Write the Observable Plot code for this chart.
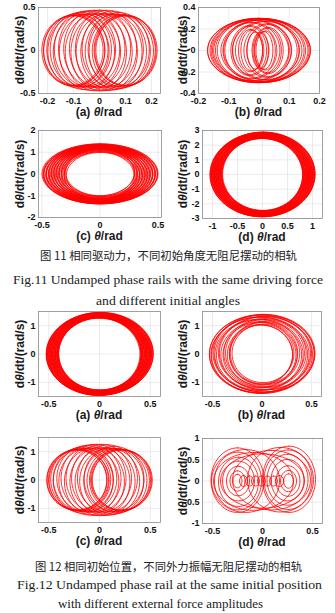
<!DOCTYPE html>
<html><head><meta charset="utf-8">
<script src="https://cdn.jsdelivr.net/npm/d3@7"></script>
<script src="https://cdn.jsdelivr.net/npm/@observablehq/plot@0.6"></script>
<style>
body{margin:0;background:#fff;}
#fig{position:relative;width:335px;height:613px;overflow:hidden;background:#fff;}
.panel{position:absolute;}
.lab{position:absolute;font-family:"Liberation Sans",Arial,sans-serif;font-weight:bold;font-size:12px;white-space:nowrap;color:#1a1a1a;line-height:1;}
.yl{transform:translate(-50%,-50%) rotate(-90deg);}
.xl{transform:translate(-50%,-50%);}
#cap{position:absolute;left:0;top:0;}
</style></head><body><div id="fig"></div>
<script>
// ---- data: each loop of a phase trajectory = [centre θ, centre dθ/dt, half-width, half-height]
const loops11a = [
 [-0.104,0.000,0.118,0.405],[-0.097,0.004,0.118,0.412],[-0.085,0.008,0.118,0.422],[-0.072,0.012,0.118,0.432],
 [-0.056,0.016,0.118,0.440],[-0.040,0.018,0.118,0.445],[-0.020,0.020,0.118,0.448],[0.002,0.020,0.118,0.450],
 [0.025,0.020,0.118,0.448],[0.051,0.017,0.118,0.442],[0.074,0.012,0.118,0.430],[0.097,0.004,0.118,0.412],
 [0.104,0.000,0.118,0.405],
 [0.100,-0.003,0.118,0.408],[0.090,-0.007,0.118,0.418],[0.078,-0.011,0.118,0.428],[0.063,-0.014,0.118,0.436],
 [0.046,-0.017,0.118,0.443],[0.028,-0.019,0.118,0.447],[0.008,-0.020,0.118,0.450],[-0.014,-0.020,0.118,0.449],
 [-0.037,-0.018,0.118,0.445],[-0.060,-0.015,0.118,0.438],[-0.081,-0.010,0.118,0.425],[-0.098,-0.004,0.118,0.410]
];
const loops11b = [
 [0.000,0,0.170,0.300],[0.008,0,0.162,0.298],[-0.010,0,0.152,0.295],[0.014,0,0.140,0.290],
 [-0.018,0,0.126,0.284],[0.022,0,0.110,0.275],[-0.025,0,0.094,0.264],[0.028,0,0.078,0.250],
 [-0.030,0,0.063,0.234],[0.030,0,0.050,0.216],[-0.028,0,0.040,0.198],[0.022,0,0.032,0.182],
 [-0.012,0,0.028,0.172],[0.004,0,0.027,0.168],[0.016,0,0.030,0.176],[-0.024,0,0.036,0.190],
 [0.029,0,0.045,0.207],[-0.031,0,0.056,0.225],[0.030,0,0.070,0.242],[-0.027,0,0.086,0.258],
 [0.024,0,0.102,0.270],[-0.020,0,0.118,0.280],[0.016,0,0.133,0.287],[-0.012,0,0.146,0.293],
 [0.008,0,0.158,0.297],[-0.004,0,0.166,0.299]
];
const loops11c = [
 [0.000,0.010,0.500,1.380],[0.004,-0.013,0.489,1.363],[-0.004,0.016,0.478,1.346],[0.006,-0.019,0.467,1.330],
 [-0.006,0.022,0.456,1.313],[0.008,-0.025,0.445,1.296],[-0.008,0.028,0.434,1.279],[0.009,-0.031,0.423,1.263],
 [-0.009,0.034,0.412,1.246],[0.010,-0.037,0.401,1.229],[-0.010,0.040,0.390,1.212],[0.010,-0.044,0.379,1.196],
 [-0.010,0.048,0.368,1.179],[0.009,-0.052,0.357,1.162],[-0.008,0.056,0.346,1.145],[0.007,-0.060,0.335,1.129],
 [-0.006,0.064,0.324,1.112],[0.005,-0.067,0.313,1.095],[-0.003,0.070,0.302,1.078],[0.002,-0.070,0.292,1.063],
 [0.000,0.070,0.296,1.069],[-0.003,-0.068,0.307,1.086],[0.005,0.065,0.318,1.103],[-0.006,-0.062,0.329,1.120],
 [0.007,0.058,0.340,1.136],[-0.008,-0.054,0.351,1.153],[0.009,0.050,0.362,1.170],[-0.010,-0.046,0.373,1.187],
 [0.010,0.042,0.384,1.203],[-0.010,-0.038,0.395,1.220],[0.010,0.035,0.406,1.237],[-0.009,-0.032,0.417,1.254],
 [0.009,0.029,0.428,1.270],[-0.008,-0.026,0.439,1.287],[0.007,0.023,0.450,1.304],[-0.006,-0.020,0.461,1.321],
 [0.005,0.017,0.472,1.337],[-0.004,-0.014,0.483,1.354],[0.002,0.011,0.494,1.371]
];
const loops11d = [
 [0.000,0.00,1.050,2.880],[0.015,0.04,1.037,2.858],[-0.015,-0.04,1.024,2.836],[0.015,0.04,1.011,2.814],
 [-0.015,-0.04,0.998,2.793],[0.015,0.04,0.985,2.771],[-0.015,-0.04,0.972,2.749],[0.015,0.04,0.959,2.727],
 [-0.015,-0.04,0.946,2.705],[0.015,0.04,0.933,2.683],[-0.015,-0.04,0.920,2.662],[0.015,0.04,0.907,2.640],
 [-0.015,-0.04,0.894,2.618],[0.015,0.04,0.881,2.596],[-0.015,-0.04,0.868,2.574],[0.015,0.04,0.855,2.552],
 [-0.015,-0.04,0.842,2.531],[0.012,0.03,0.829,2.509],[-0.010,-0.03,0.816,2.487],[0.006,0.02,0.803,2.465],
 [-0.006,-0.02,0.809,2.475],[0.010,0.03,0.822,2.497],[-0.012,-0.03,0.835,2.519],[0.015,0.04,0.848,2.541],
 [-0.015,-0.04,0.861,2.562],[0.015,0.04,0.874,2.584],[-0.015,-0.04,0.887,2.606],[0.015,0.04,0.900,2.628],
 [-0.015,-0.04,0.913,2.650],[0.015,0.04,0.926,2.672],[-0.015,-0.04,0.939,2.694],[0.015,0.04,0.952,2.715],
 [-0.015,-0.04,0.965,2.737],[0.015,0.04,0.978,2.759],[-0.015,-0.04,0.991,2.781],[0.015,0.04,1.004,2.803],
 [-0.012,-0.03,1.017,2.825],[0.010,0.03,1.030,2.846],[-0.006,-0.02,1.043,2.868]
];
const loops12a = [
 [0.000,0.00,0.525,1.460],[0.010,0.02,0.519,1.451],[-0.010,-0.02,0.512,1.440],[0.010,0.02,0.506,1.431],
 [-0.010,-0.02,0.500,1.422],[0.010,0.02,0.493,1.411],[-0.010,-0.02,0.487,1.402],[0.010,0.02,0.481,1.393],
 [-0.010,-0.02,0.474,1.382],[0.010,0.02,0.468,1.373],[-0.010,-0.02,0.462,1.364],[0.010,0.02,0.455,1.354],
 [-0.010,-0.02,0.449,1.344],[0.010,0.02,0.443,1.335],[-0.010,-0.02,0.436,1.325],[0.010,0.02,0.430,1.316],
 [-0.008,-0.02,0.424,1.306],[0.006,0.01,0.417,1.296],[-0.005,-0.01,0.411,1.287],[0.004,0.01,0.405,1.278],
 [-0.004,-0.01,0.402,1.273],[0.005,0.01,0.408,1.282],[-0.006,-0.01,0.414,1.291],[0.008,0.02,0.421,1.302],
 [-0.010,-0.02,0.427,1.311],[0.010,0.02,0.433,1.320],[-0.010,-0.02,0.440,1.331],[0.010,0.02,0.446,1.340],
 [-0.010,-0.02,0.452,1.349],[0.010,0.02,0.459,1.360],[-0.010,-0.02,0.465,1.369],[0.010,0.02,0.471,1.378],
 [-0.010,-0.02,0.478,1.389],[0.010,0.02,0.484,1.398],[-0.010,-0.02,0.490,1.407],[0.010,0.02,0.497,1.418],
 [-0.008,-0.02,0.503,1.427],[0.006,0.01,0.509,1.436],[-0.005,-0.01,0.516,1.446],[0.004,0.01,0.522,1.455]
];
const loops12b = [
 [0.000,0.00,0.530,1.39],[0.020,0.03,0.515,1.37],[-0.020,-0.03,0.495,1.34],[0.030,0.03,0.470,1.30],
 [-0.030,-0.03,0.445,1.26],[0.030,0.03,0.415,1.22],[-0.030,-0.03,0.385,1.17],[0.025,0.03,0.355,1.12],
 [-0.020,-0.03,0.330,1.07],[0.010,0.02,0.312,1.03],[-0.010,-0.02,0.318,1.04],[0.020,0.03,0.340,1.09],
 [-0.025,-0.03,0.368,1.14],[0.030,0.03,0.398,1.19],[-0.030,-0.03,0.430,1.24],[0.030,0.03,0.460,1.29],
 [-0.025,-0.03,0.485,1.33],[0.020,0.02,0.505,1.36],[-0.010,-0.01,0.520,1.38]
];
const loops12c = [
 [-0.224,0.000,0.295,1.060],[-0.207,0.010,0.295,1.080],[-0.185,0.020,0.295,1.110],[-0.159,0.030,0.295,1.140],
 [-0.125,0.045,0.295,1.170],[-0.083,0.055,0.295,1.190],[-0.034,0.060,0.295,1.200],[0.020,0.060,0.295,1.200],
 [0.078,0.055,0.295,1.190],[0.143,0.040,0.295,1.150],[0.207,0.010,0.295,1.080],[0.224,0.000,0.295,1.060],
 [0.216,-0.005,0.295,1.070],[0.196,-0.015,0.295,1.100],[0.172,-0.025,0.295,1.130],[0.140,-0.040,0.295,1.160],
 [0.100,-0.050,0.295,1.180],[0.055,-0.058,0.295,1.195],[0.004,-0.060,0.295,1.200],[-0.050,-0.058,0.295,1.195],
 [-0.105,-0.050,0.295,1.180],[-0.160,-0.030,0.295,1.140],[-0.200,-0.012,0.295,1.090],[-0.220,-0.003,0.295,1.065]
];
const loops12d = [
 [-0.250,0.02,0.265,0.76],[-0.245,0.00,0.235,0.68],[-0.240,-0.02,0.200,0.58],[-0.240,0.00,0.160,0.47],
 [-0.245,0.00,0.115,0.35],[-0.250,0.00,0.075,0.24],[-0.250,0.00,0.045,0.16],
 [-0.190,0.00,0.040,0.13],[-0.130,0.00,0.040,0.12],[-0.070,0.00,0.040,0.12],[-0.010,0.00,0.040,0.12],
 [0.050,0.00,0.040,0.12],[0.110,0.00,0.040,0.12],[0.170,0.00,0.042,0.13],
 [0.260,0.00,0.048,0.17],[0.260,0.00,0.080,0.25],[0.255,0.00,0.120,0.36],[0.250,0.02,0.165,0.49],
 [0.250,0.03,0.205,0.60],[0.255,0.03,0.240,0.70],[0.265,0.04,0.265,0.78],
 [0.180,0.03,0.330,0.76],[0.090,0.02,0.390,0.70],[0.000,0.00,0.420,0.64],[-0.090,-0.01,0.400,0.68],
 [-0.170,0.00,0.340,0.74]
];
// tick labels
const xTicks11a = [-0.2,-0.1,0,0.1,0.2], yTicks11a = [-0.5,0,0.5];
const xTicks11b = [-0.2,-0.1,0,0.1,0.2], yTicks11b = [-0.4,-0.2,0,0.2,0.4];
const xTicks11c = [-0.5,0,0.5], yTicks11c = [-2,-1,0,1,2];
const xTicks11d = [-1,-0.5,0,0.5,1], yTicks11d = [-3,-2,-1,0,1,2,3];
const xTicks12a = [-0.5,0,0.5], yTicks12a = [-1,0,1];
const xTicks12b = [-0.5,0,0.5], yTicks12b = [-1,0,1];
const xTicks12c = [-0.5,0,0.5], yTicks12c = [-1,0,1];
const xTicks12d = [-0.5,0,0.5], yTicks12d = [-1,-0.5,0,0.5,1];
const panelTags = ["(a)","(b)","(c)","(d)","(a)","(b)","(c)","(d)"];
const captions = [
 "图 11 相同驱动力，不同初始角度无阻尼摆动的相轨",
 "Fig.11 Undamped phase rails with the same driving force",
 "and different initial angles",
 "图 12 相同初始位置，不同外力振幅无阻尼摆动的相轨",
 "Fig.12 Undamped phase rail at the same initial position",
 "with different external force amplitudes"
];

// ---- layout (page pixels)
const panels = [
 {loops:loops11a, xd:[-0.235,0.235], yd:[-0.5,0.5], xt:xTicks11a, yt:yTicks11a, fx:[38,160], fy:[7,93], col:[0,167], ylx:20},
 {loops:loops11b, xd:[-0.2,0.2], yd:[-0.4,0.4], xt:xTicks11b, yt:yTicks11b, fx:[198,319], fy:[7,93], col:[167,335], ylx:183},
 {loops:loops11c, xd:[-0.53,0.53], yd:[-2,2], xt:xTicks11c, yt:yTicks11c, fx:[38,161], fy:[130,217], col:[0,167], ylx:20},
 {loops:loops11d, xd:[-1.2,1.2], yd:[-3,3], xt:xTicks11d, yt:yTicks11d, fx:[202,322], fy:[130,218], col:[167,335], ylx:183},
 {loops:loops12a, xd:[-0.6,0.6], yd:[-1.5,1.5], xt:xTicks12a, yt:yTicks12a, fx:[38,160], fy:[311,396], col:[0,167], ylx:20},
 {loops:loops12b, xd:[-0.6,0.6], yd:[-1.5,1.5], xt:xTicks12b, yt:yTicks12b, fx:[202,321], fy:[311,396], col:[167,335], ylx:183},
 {loops:loops12c, xd:[-0.6,0.6], yd:[-1.5,1.5], xt:xTicks12c, yt:yTicks12c, fx:[38,160], fy:[437,522], col:[0,167], ylx:20},
 {loops:loops12d, xd:[-0.6,0.6], yd:[-1,1], xt:xTicks12d, yt:yTicks12d, fx:[202,322], fy:[438,523], col:[167,335], ylx:183}
];
const capLayout = [
 {x0:40,x1:297,y:255,zh:true},{x0:13,x1:323,y:279},{x0:96,x1:240,y:300},
 {x0:35,x1:302,y:566,zh:true},{x0:17,x1:322,y:584},{x0:58,x1:263,y:603}
];

const fig = document.getElementById("fig");
const fmt = d => String(d);
function loopPoints(loops) {
  const pts = [];
  loops.forEach(([cx, cy, rx, ry], i) => {
    pts.push({id:i, x:cx-rx, y:cy}, {id:i, x:cx, y:cy+ry}, {id:i, x:cx+rx, y:cy}, {id:i, x:cx, y:cy-ry});
  });
  return pts;
}
panels.forEach((p, k) => {
  const top = p.fy[0] - 5, bottom = p.fy[1] + 14;
  const svg = Plot.plot({
    width: p.col[1] - p.col[0], height: bottom - top,
    marginLeft: p.fx[0] - p.col[0], marginRight: p.col[1] - p.fx[1],
    marginTop: 5, marginBottom: 14,
    style: {fontFamily: '"Liberation Sans", Arial, sans-serif', fontSize: "9px", fontWeight: "bold", color: "#111", background: "transparent", overflow: "visible"},
    x: {domain: p.xd, axis: null},
    y: {domain: p.yd, axis: null},
    marks: [
      Plot.gridX(p.xt, {stroke: "#e3e3e3", strokeOpacity: 1, strokeWidth: 0.7}),
      Plot.gridY(p.yt, {stroke: "#e3e3e3", strokeOpacity: 1, strokeWidth: 0.7}),
      Plot.line(loopPoints(p.loops), {x: "x", y: "y", z: "id", curve: "cardinal-closed", tension: -0.657, stroke: "#ff0000", strokeWidth: 0.8}),
      Plot.frame({stroke: "#8a8a8a", strokeWidth: 0.8}),
      Plot.axisX(p.xt, {tickSize: 0, tickPadding: 4, tickFormat: fmt, label: null}),
      Plot.axisY(p.yt, {tickSize: 0, tickPadding: 3, tickFormat: fmt, label: null})
    ]
  });
  svg.classList.add("panel");
  svg.style.left = p.col[0] + "px";
  svg.style.top = top + "px";
  fig.appendChild(svg);
  const xl = document.createElement("div");
  xl.className = "lab xl";
  xl.innerHTML = panelTags[k] + " <i>θ</i>/rad";
  xl.style.left = ((p.fx[0] + p.fx[1]) / 2) + "px";
  xl.style.top = (p.fy[1] + 19) + "px";
  fig.appendChild(xl);
  const yl = document.createElement("div");
  yl.className = "lab yl";
  yl.innerHTML = "d<i>θ</i>/dt/(rad/s)";
  yl.style.left = p.ylx + "px";
  yl.style.top = ((p.fy[0] + p.fy[1]) / 2) + "px";
  fig.appendChild(yl);
});

// captions
const NS = "http://www.w3.org/2000/svg";
const cap = document.createElementNS(NS, "svg");
cap.setAttribute("id", "cap");
cap.setAttribute("width", 335); cap.setAttribute("height", 613);
captions.forEach((t, i) => {
  const c = capLayout[i];
  const el = document.createElementNS(NS, "text");
  el.setAttribute("x", c.x0); el.setAttribute("y", c.y);
  el.setAttribute("dominant-baseline", "central");
  el.setAttribute("textLength", c.x1 - c.x0);
  el.setAttribute("lengthAdjust", "spacingAndGlyphs");
  el.setAttribute("fill", "#222");
  el.setAttribute("font-family", c.zh ? '"Noto Sans CJK SC", sans-serif' : '"Liberation Serif", serif');
  el.setAttribute("font-size", c.zh ? 11.5 : 13);
  el.textContent = t;
  cap.appendChild(el);
});
fig.appendChild(cap);
</script>
</body></html>
